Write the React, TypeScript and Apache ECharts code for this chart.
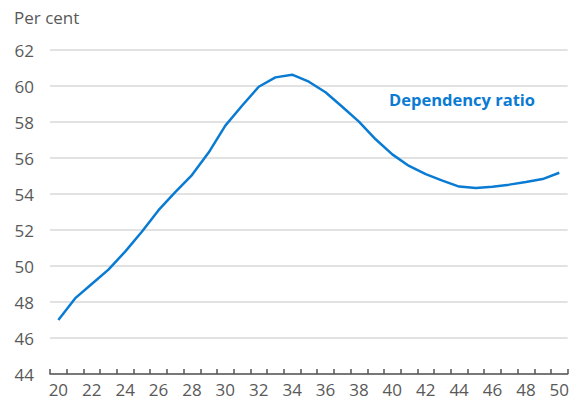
import React, { useEffect, useRef } from "react";
import * as echarts from "echarts";

const years = [
  "20", "21", "22", "23", "24", "25", "26", "27", "28", "29",
  "30", "31", "32", "33", "34", "35", "36", "37", "38", "39",
  "40", "41", "42", "43", "44", "45", "46", "47", "48", "49", "50",
];
const dependencyRatio = [
  47.0, 48.2, 49.0, 49.8, 50.8, 51.9, 53.1, 54.1, 55.05, 56.3,
  57.8, 58.9, 59.96, 60.48, 60.63, 60.24, 59.65, 58.85, 58.02, 57.04,
  56.2, 55.56, 55.1, 54.74, 54.41, 54.33, 54.4, 54.52, 54.67, 54.83, 55.18,
];
const yTicks = { min: 44, max: 62, interval: 2 };
const unitLabel = "Per cent";
const seriesLabel = "Dependency ratio";

const FONT = "'Open Sans', 'Noto Sans', sans-serif";
const BLUE = "#0a7bd3";
const GREY_TEXT = "#595959";

export default function App() {
  const ref = useRef<HTMLDivElement>(null);
  useEffect(() => {
    if (!ref.current) return;
    const chart = echarts.init(ref.current, null, { renderer: "svg" });
    chart.setOption({
      animation: false,
      backgroundColor: "#ffffff",
      grid: { left: 50, right: 3, top: 50, bottom: 24, containLabel: false },
      graphic: [
        {
          type: "text",
          left: 14,
          top: 9,
          style: { text: unitLabel, fontSize: 17, fontFamily: FONT, fill: GREY_TEXT },
        },
        {
          type: "text",
          left: 389,
          top: 91,
          style: { text: seriesLabel, fontSize: 16.5, fontWeight: "bold", fontFamily: FONT, fill: BLUE },
        },
      ],
      xAxis: {
        type: "category",
        data: years,
        boundaryGap: true,
        axisLine: { show: true, lineStyle: { color: "#555555", width: 1.5 } },
        axisTick: { show: true, inside: true, length: 5, interval: 0, lineStyle: { color: "#555555", width: 1.5 } },
        axisLabel: { interval: 1, fontSize: 17, fontFamily: FONT, color: GREY_TEXT, margin: 7 },
        splitLine: { show: false },
      },
      yAxis: {
        type: "value",
        min: yTicks.min,
        max: yTicks.max,
        interval: yTicks.interval,
        axisLine: { show: false },
        axisTick: { show: false },
        axisLabel: { fontSize: 17, fontFamily: FONT, color: GREY_TEXT, margin: 16 },
        splitLine: { show: true, lineStyle: { color: "#d9d9d9", width: 1.5 } },
      },
      series: [
        {
          type: "line",
          data: dependencyRatio,
          showSymbol: false,
          symbol: "none",
          lineStyle: { color: BLUE, width: 2.5 },
          itemStyle: { color: BLUE },
        },
      ],
    });
    return () => chart.dispose();
  }, []);
  return <div ref={ref} style={{ width: 572, height: 398, position: "fixed", left: 0, top: 0 }} />;
}
